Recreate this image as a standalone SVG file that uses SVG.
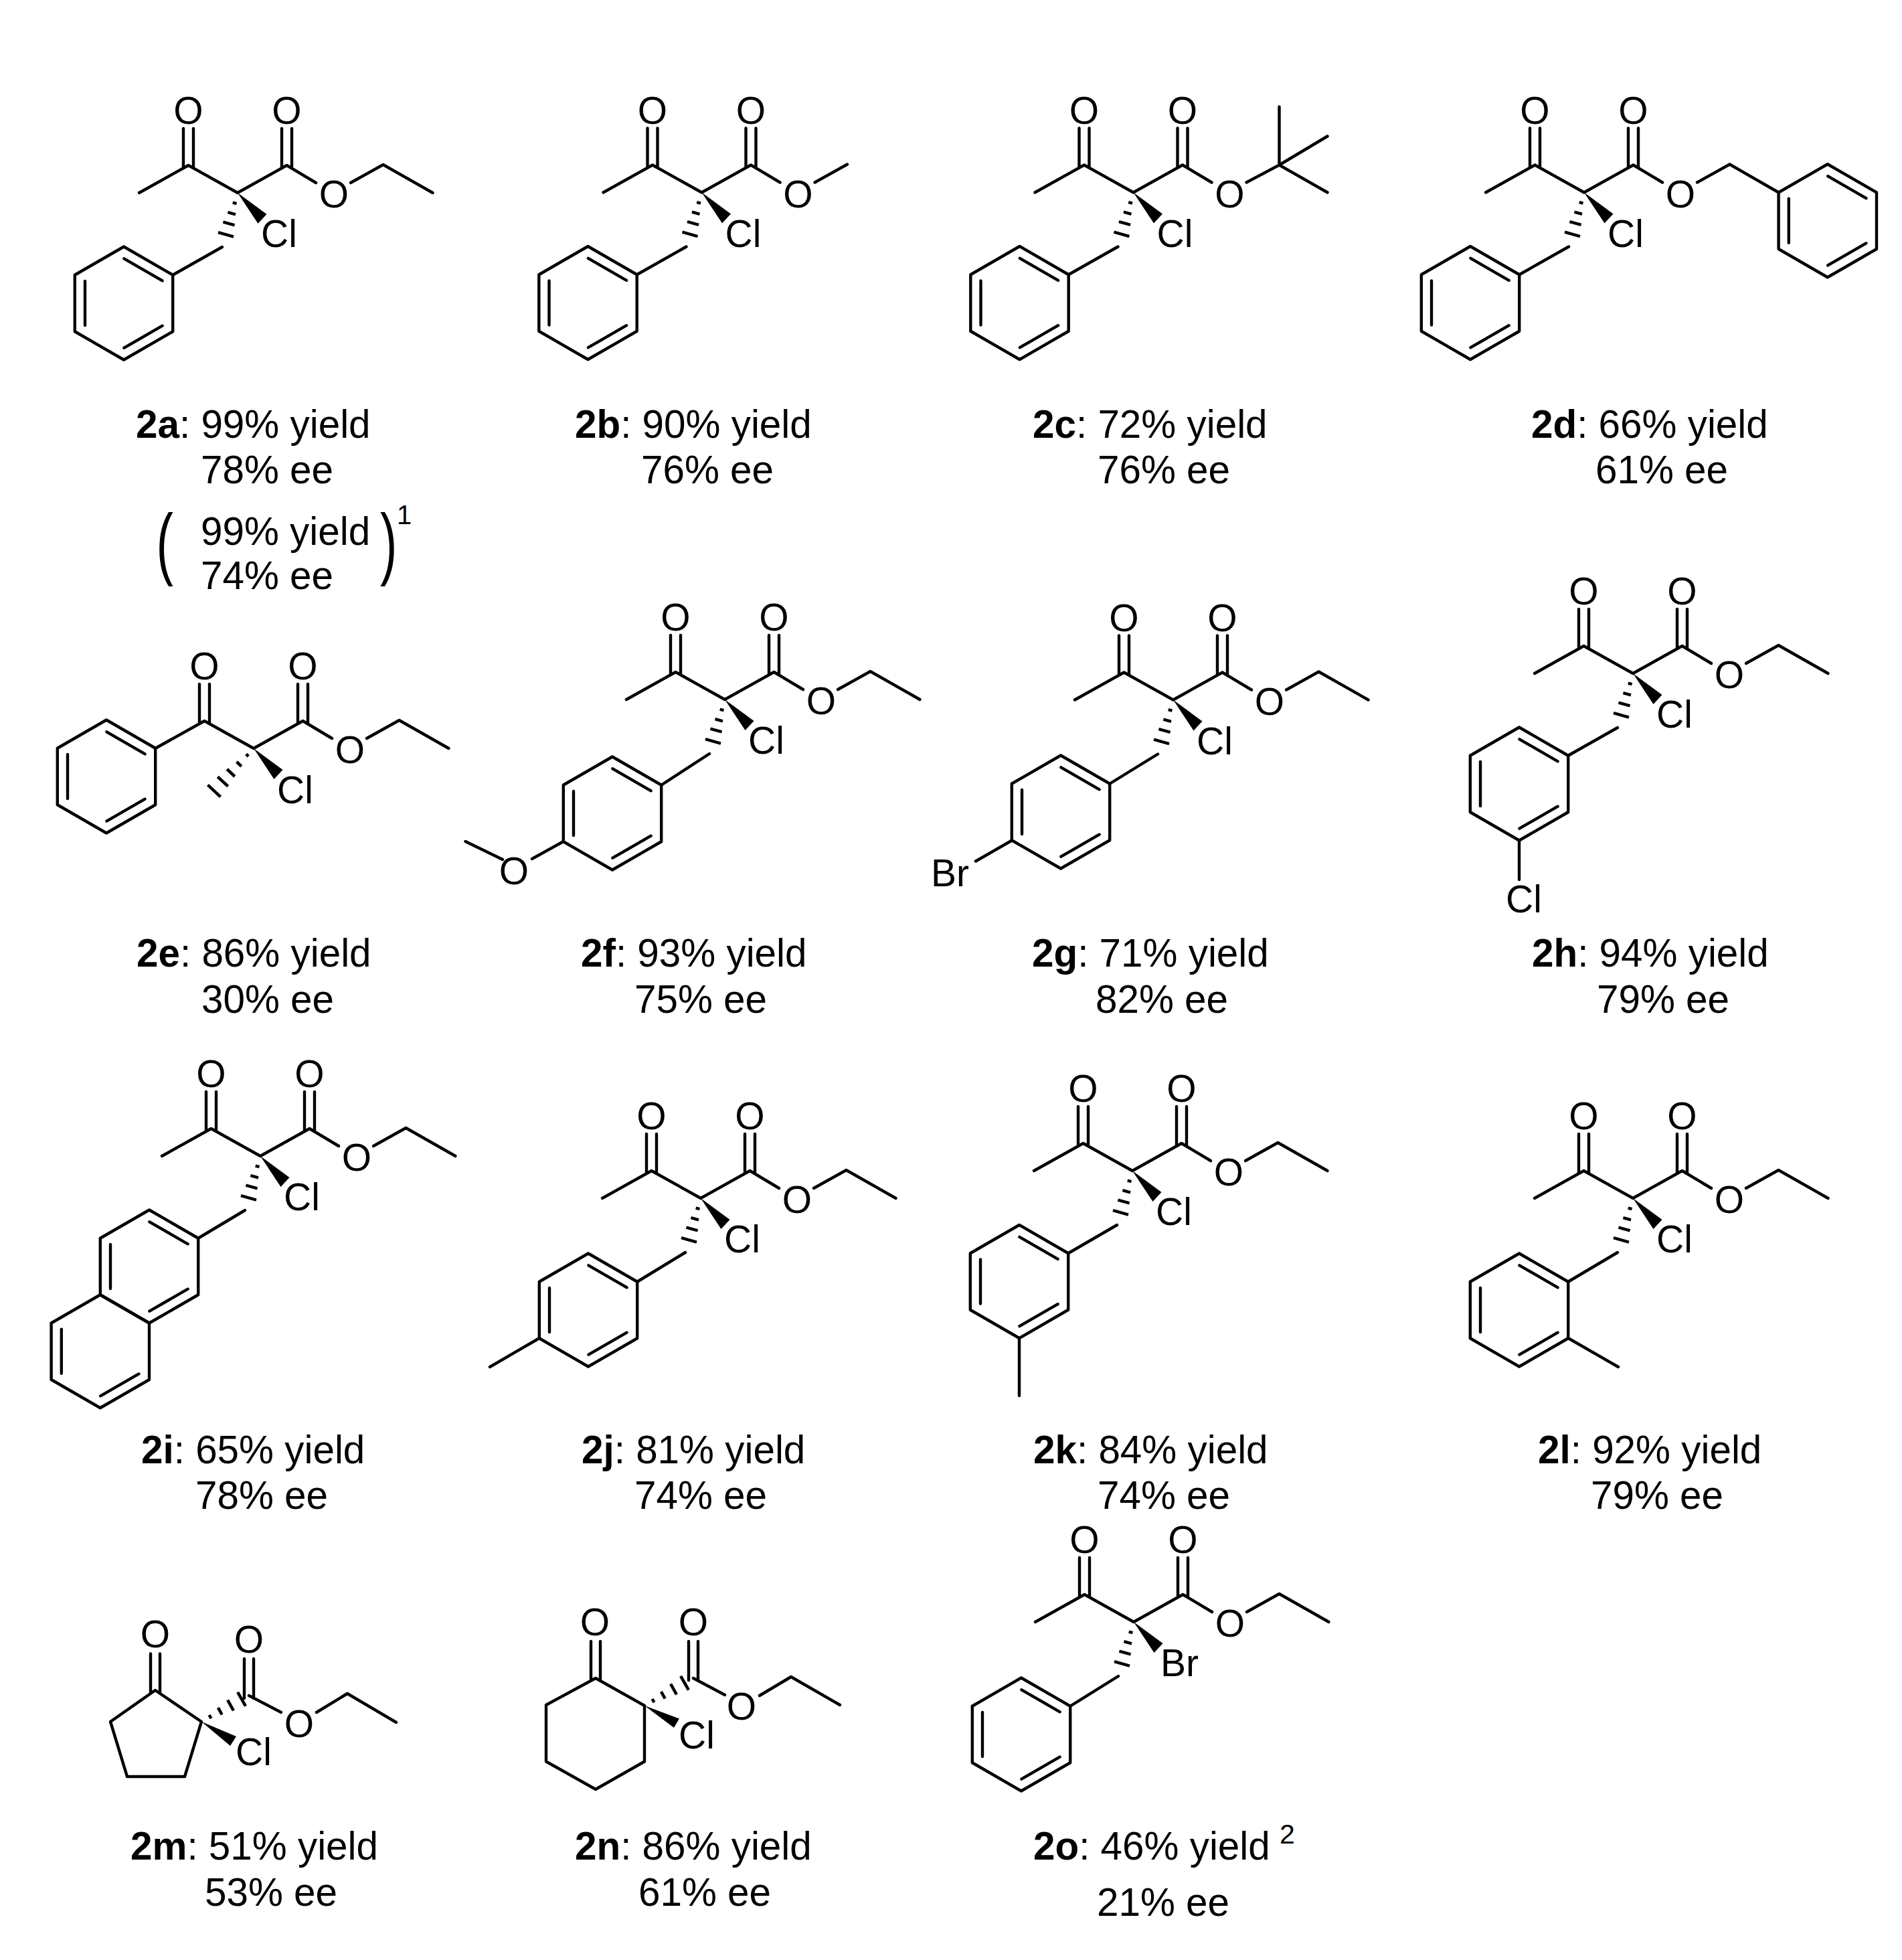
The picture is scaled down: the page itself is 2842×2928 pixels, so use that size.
<svg xmlns="http://www.w3.org/2000/svg" width="2842" height="2928" viewBox="0 0 2842 2928">
<style>
text{font-family:"Liberation Sans",Arial,sans-serif;fill:#000}
.a{font-size:57px;text-anchor:middle}
.s{font-size:57px;text-anchor:start}
.t{font-size:58.4px}
.p{font-size:61px}
.bf{font-weight:bold}
.b{fill:none;stroke:#000;stroke-width:4.4;stroke-linejoin:round;stroke-linecap:round}
.h{fill:none;stroke:#000;stroke-width:4.5}
</style>
<defs>
<path id="hex" class="b" d="M0,-84.5L73.2,-42.25V42.25L0,84.5L-73.2,42.25V-42.25Z"/>
<g id="ring"><use href="#hex"/><path class="b" d="M-58,-33V33M0.4,-66.7L57.6,-33.7M0.4,66.7L57.6,33.7"/></g>
<g id="core">
<path class="b" d="M-147,0L-73.5,-41L0,0L73.5,-41L117,-15M-81,-96V-37M-66,-96V-37M66,-96V-37M81,-96V-37"/>
<polygon points="0,0 43.5,32 30.5,46" fill="#000"/>
</g>
<path id="hb" class="h" d="M-7.3,14.6L-1.5,16.2M-14.6,29.1L-3,32.3M-21.6,43.6L-4.4,48.4M-29,59.2L-6,65.6"/>
<path id="hm" class="h" d="M-11.3,8.5L-7.7,11.9M-25.4,20L-18.2,26.8M-39.8,31L-28.2,42M-53.7,42.5L-38.3,56.7M-68.5,54.7L-49.5,72.3"/>
<path id="he" class="h" d="M11.5,-10L14.5,-4.8M24.9,-20.9L30.7,-10.5M39.1,-32.3L47.9,-16.7M54.1,-44.2L65.9,-23.4"/>
<path id="eth" class="b" d="M169,-15L217.5,-42L291.5,0"/>
</defs>
<rect width="2842" height="2928" fill="#fff"/>

<g id="c2a" transform="translate(355 288)">
<use href="#core"/><use href="#hb"/><use href="#eth"/>
<path class="b" d="M-23,81L-96.8,122.75"/><use href="#ring" x="-170" y="165"/>
<text class="a" x="-73.5" y="-103">O</text><text class="a" x="73.5" y="-103">O</text><text class="a" x="144" y="22">O</text><text class="s" x="35" y="81">Cl</text>
</g>
<g id="l2a">
<text class="t" x="203" y="654"><tspan class="bf">2a</tspan>: 99% yield</text>
<text class="t" x="300" y="722">78% ee</text>
<text class="p" transform="translate(233.5 851) scale(1.25 1.95)">(</text>
<text class="t" x="300" y="814">99% yield</text>
<text class="t" x="300" y="880">74% ee</text>
<text class="p" transform="translate(568 851) scale(1.25 1.95)">)</text>
<text x="593" y="783" font-size="40">1</text>
</g>

<g id="c2b" transform="translate(1048.5 287.5)">
<use href="#core"/><use href="#hb"/>
<path class="b" d="M169,-15L217.5,-42M-23,81L-96.8,122.75"/><use href="#ring" x="-170" y="165"/>
<text class="a" x="-73.5" y="-103">O</text><text class="a" x="73.5" y="-103">O</text><text class="a" x="144" y="22">O</text><text class="s" x="35" y="81">Cl</text>
</g>
<g id="l2b">
<text class="t" x="859" y="654"><tspan class="bf">2b</tspan>: 90% yield</text>
<text class="t" x="958" y="722">76% ee</text>
</g>

<g id="c2c" transform="translate(1693.5 287.5)">
<use href="#core"/><use href="#hb"/>
<path class="b" d="M169,-15L218,-41M218,-128V-41M290,-84L218,-41L290,0M-23,81L-96.8,122.75"/><use href="#ring" x="-170" y="165"/>
<text class="a" x="-73.5" y="-103">O</text><text class="a" x="73.5" y="-103">O</text><text class="a" x="144" y="22">O</text><text class="s" x="35" y="81">Cl</text>
</g>
<g id="l2c">
<text class="t" x="1543" y="654"><tspan class="bf">2c</tspan>: 72% yield</text>
<text class="t" x="1640" y="722">76% ee</text>
</g>

<g id="c2d" transform="translate(2367 287.5)">
<use href="#core"/><use href="#hb"/>
<path class="b" d="M169,-15L217.5,-42L290.6,0M-23,81L-96.8,122.75"/><use href="#ring" x="-170" y="165"/><use href="#ring" x="363.8" y="42.25"/>
<text class="a" x="-73.5" y="-103">O</text><text class="a" x="73.5" y="-103">O</text><text class="a" x="144" y="22">O</text><text class="s" x="35" y="81">Cl</text>
</g>
<g id="l2d">
<text class="t" x="2288" y="654"><tspan class="bf">2d</tspan>: 66% yield</text>
<text class="t" x="2384" y="722">61% ee</text>
</g>

<g id="c2e" transform="translate(379 1118)">
<use href="#core"/><use href="#hm"/><use href="#eth"/>
<use href="#ring" x="-220" y="42"/>
<text class="a" x="-73.5" y="-103">O</text><text class="a" x="73.5" y="-103">O</text><text class="a" x="144" y="22">O</text><text class="s" x="35" y="82">Cl</text>
</g>
<g id="l2e">
<text class="t" x="204" y="1444"><tspan class="bf">2e</tspan>: 86% yield</text>
<text class="t" x="301" y="1513">30% ee</text>
</g>

<g id="c2f" transform="translate(1083 1045)">
<use href="#core"/><use href="#hb"/><use href="#eth"/>
<path class="b" d="M-23,81L-94.8,127.75M-241,212L-288,238M-332,239L-387.5,212"/><use href="#ring" x="-168" y="170"/>
<text class="a" x="-73.5" y="-103">O</text><text class="a" x="73.5" y="-103">O</text><text class="a" x="144" y="22">O</text><text class="s" x="35" y="81">Cl</text><text class="a" x="-315" y="276">O</text>
</g>
<g id="l2f">
<text class="t" x="868" y="1444"><tspan class="bf">2f</tspan>: 93% yield</text>
<text class="t" x="948" y="1513">75% ee</text>
</g>

<g id="c2g" transform="translate(1753 1045.5)">
<use href="#core"/><use href="#hb"/><use href="#eth"/>
<path class="b" d="M-23,81L-94.8,125.25M-241,210L-295,241"/><use href="#ring" x="-168" y="167.5"/>
<text class="a" x="-73.5" y="-103">O</text><text class="a" x="73.5" y="-103">O</text><text class="a" x="144" y="22">O</text><text class="s" x="35" y="81">Cl</text><text class="s" x="-362" y="278">Br</text>
</g>
<g id="l2g">
<text class="t" x="1542" y="1444"><tspan class="bf">2g</tspan>: 71% yield</text>
<text class="t" x="1637" y="1513">82% ee</text>
</g>

<g id="c2h" transform="translate(2440 1006)">
<use href="#core"/><use href="#hb"/><use href="#eth"/>
<path class="b" d="M-23,81L-96.8,122.75M-170,249.5V308"/><use href="#ring" x="-170" y="165"/>
<text class="a" x="-73.5" y="-103">O</text><text class="a" x="73.5" y="-103">O</text><text class="a" x="144" y="22">O</text><text class="s" x="35" y="81">Cl</text><text class="s" x="-190" y="357">Cl</text>
</g>
<g id="l2h">
<text class="t" x="2289" y="1444"><tspan class="bf">2h</tspan>: 94% yield</text>
<text class="t" x="2386" y="1513">79% ee</text>
</g>

<g id="c2i" transform="translate(389 1727)">
<use href="#core"/><use href="#hb"/><use href="#eth"/>
<path class="b" d="M-23,81L-92.8,122.75"/><use href="#ring" x="-166" y="165"/>
<use href="#hex" x="-239.2" y="291.75"/>
<path class="b" d="M-297.2,258.75V324.75M-238.8,358.45L-181.6,325.45"/>
<text class="a" x="-73.5" y="-103">O</text><text class="a" x="73.5" y="-103">O</text><text class="a" x="144" y="22">O</text><text class="s" x="35" y="81">Cl</text>
</g>
<g id="l2i">
<text class="t" x="211" y="2186"><tspan class="bf">2i</tspan>: 65% yield</text>
<text class="t" x="292" y="2254">78% ee</text>
</g>

<g id="c2j" transform="translate(1047 1790)">
<use href="#core"/><use href="#hb"/><use href="#eth"/>
<path class="b" d="M-23,81L-94.8,124.75M-241,209L-315,252"/><use href="#ring" x="-168" y="167"/>
<text class="a" x="-73.5" y="-103">O</text><text class="a" x="73.5" y="-103">O</text><text class="a" x="144" y="22">O</text><text class="s" x="35" y="81">Cl</text>
</g>
<g id="l2j">
<text class="t" x="869" y="2186"><tspan class="bf">2j</tspan>: 81% yield</text>
<text class="t" x="948" y="2254">74% ee</text>
</g>

<g id="c2k" transform="translate(1692 1749)">
<use href="#core"/><use href="#hb"/><use href="#eth"/>
<path class="b" d="M-23,81L-95.8,123.25M-169,250V336"/><use href="#ring" x="-169" y="165.5"/>
<text class="a" x="-73.5" y="-103">O</text><text class="a" x="73.5" y="-103">O</text><text class="a" x="144" y="22">O</text><text class="s" x="35" y="81">Cl</text>
</g>
<g id="l2k">
<text class="t" x="1544" y="2186"><tspan class="bf">2k</tspan>: 84% yield</text>
<text class="t" x="1640" y="2254">74% ee</text>
</g>

<g id="c2l" transform="translate(2440 1790)">
<use href="#core"/><use href="#hb"/><use href="#eth"/>
<path class="b" d="M-23,81L-96.8,124.75M-96.8,209L-22,252"/><use href="#ring" x="-170" y="167"/>
<text class="a" x="-73.5" y="-103">O</text><text class="a" x="73.5" y="-103">O</text><text class="a" x="144" y="22">O</text><text class="s" x="35" y="81">Cl</text>
</g>
<g id="l2l">
<text class="t" x="2298" y="2186"><tspan class="bf">2l</tspan>: 92% yield</text>
<text class="t" x="2377" y="2254">79% ee</text>
</g>

<g id="c2m" transform="translate(301 2572)">
<path class="b" d="M0,0L-69,-47L-136,0L-111,82H-25L0,0M71,-39L119,-14M172,-14L218,-42L291,1M-76,-101.5V-44M-62,-101.5V-44M64,-94V-35M78,-94V-35"/>
<polygon points="0,0 52,22 43,36" fill="#000"/>
<use href="#he"/>
<text class="a" x="-69" y="-111">O</text><text class="a" x="71" y="-103">O</text><text class="a" x="146" y="23">O</text><text class="s" x="51" y="65">Cl</text>
</g>
<g id="l2m">
<text class="t" x="195" y="2778"><tspan class="bf">2m</tspan>: 51% yield</text>
<text class="t" x="306" y="2847">53% ee</text>
</g>

<g id="c2n" transform="translate(963 2548)">
<path class="b" d="M0,0L-73,-41L-147,-1V83.5L-73,125L0,83.5V0M73,-41L120,-16M172,-15L219,-43L292,-1M-80,-96V-38M-66,-96V-38M66,-96V-38M80,-96V-38"/>
<polygon points="0,0 52,19.5 44,33" fill="#000"/>
<use href="#he"/>
<text class="a" x="-74" y="-105">O</text><text class="a" x="73" y="-105">O</text><text class="a" x="145" y="21">O</text><text class="s" x="51" y="64">Cl</text>
</g>
<g id="l2n">
<text class="t" x="859" y="2778"><tspan class="bf">2n</tspan>: 86% yield</text>
<text class="t" x="954" y="2847">61% ee</text>
</g>

<g id="c2o" transform="translate(1694 2423)">
<use href="#core"/><use href="#hb"/><use href="#eth"/>
<path class="b" d="M-23,81L-94.8,125.75"/><use href="#ring" x="-168" y="168"/>
<text class="a" x="-73.5" y="-103">O</text><text class="a" x="73.5" y="-103">O</text><text class="a" x="144" y="22">O</text><text class="s" x="40" y="81">Br</text>
</g>
<g id="l2o">
<text class="t" x="1544" y="2778"><tspan class="bf">2o</tspan>: 46% yield</text>
<text x="1912" y="2754" font-size="41">2</text>
<text class="t" x="1639" y="2862">21% ee</text>
</g>
</svg>
